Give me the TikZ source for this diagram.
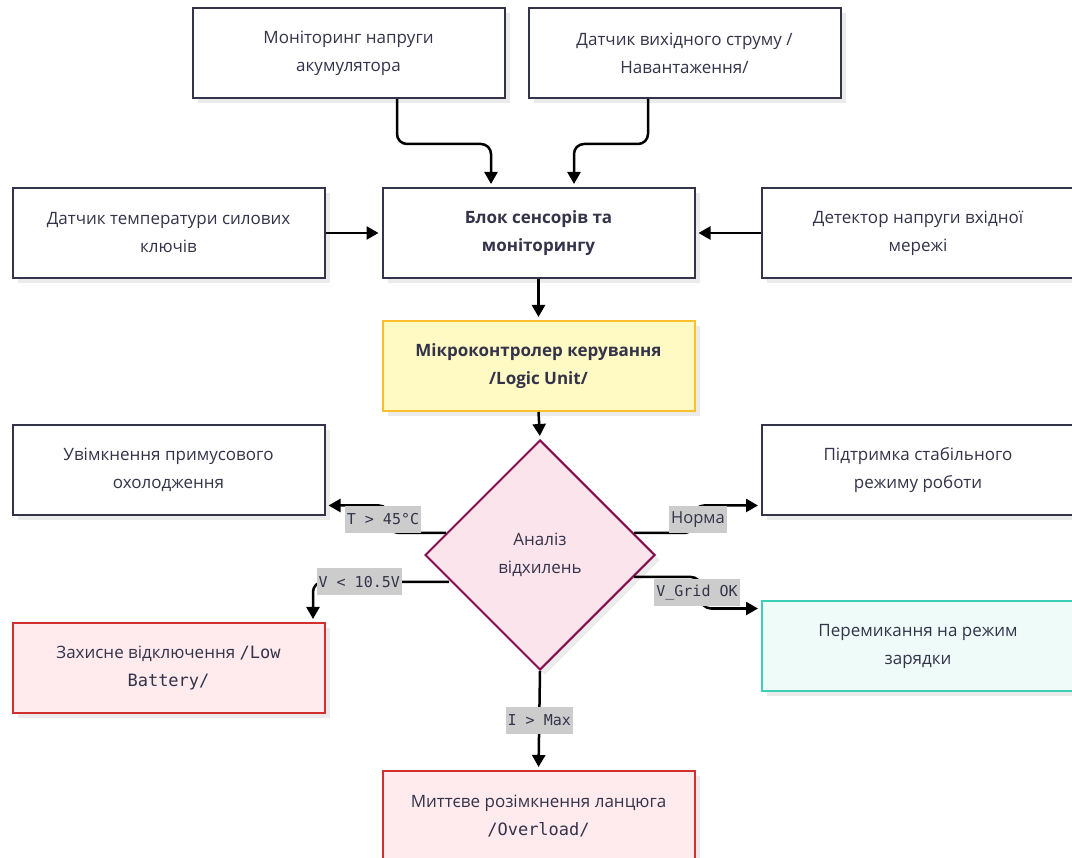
\documentclass[tikz,border=0pt]{standalone}
\usepackage{fontspec}
\setmainfont{Open Sans}
\setmonofont{DejaVu Sans Mono}
\usetikzlibrary{arrows.meta,shapes.geometric,shadows}
\definecolor{txt}{HTML}{33334A}
\definecolor{bord}{HTML}{33334A}
\definecolor{yfill}{HTML}{FFF9C4}
\definecolor{ybord}{HTML}{FBC02D}
\definecolor{dfill}{HTML}{FCE4EC}
\definecolor{dbord}{HTML}{880E4F}
\definecolor{rfill}{HTML}{FFEBEE}
\definecolor{rbord}{HTML}{D32F2F}
\definecolor{tfill}{HTML}{EFFBF9}
\definecolor{tbord}{HTML}{3CCFB8}
\definecolor{labbg}{HTML}{CCCCCC}
\tikzset{
  box/.style={draw=bord, fill=white, line width=2pt, minimum width=312pt, minimum height=90pt,
    align=center, text=txt, font=\fontsize{17}{28}\selectfont, inner sep=0pt,
    drop shadow={shadow xshift=5pt, shadow yshift=-5pt, fill=black, opacity=0.08}},
  ybox/.style={box, draw=ybord, fill=yfill},
  rbox/.style={box, draw=rbord, fill=rfill},
  tbox/.style={box, draw=tbord, fill=tfill},
  dec/.style={diamond, aspect=1, draw=dbord, fill=dfill, line width=2pt, minimum width=230pt,
    minimum height=230pt, inner sep=0pt, align=center, text=txt, font=\fontsize{17}{28}\selectfont,
    drop shadow={shadow xshift=5pt, shadow yshift=-5pt, fill=black, opacity=0.08}},
  arr/.style={draw=black, line width=2.5pt, rounded corners=10pt,
    -{Triangle[length=12pt,width=13pt]}, shorten >=3pt},
  lab/.style={sharp corners, fill=labbg, text=txt, inner xsep=2pt, inner ysep=0pt, minimum height=27pt,
    font=\fontsize{15}{18}\selectfont\ttfamily},
  slab/.style={lab, font=\fontsize{16.5}{18}\selectfont}
}
\begin{document}
\begin{tikzpicture}[x=1pt,y=-1pt]
\useasboundingbox (0,0) rectangle (1072,858);
\clip (0,0) rectangle (1072,858);
\fill[white] (0,0) rectangle (1072,858);

\node[box] (A) at (348.5,53) {Моніторинг напруги\\акумулятора};
\node[box] (B) at (684.5,53) {Датчик вихідного струму /\\Навантаження/};
\node[box] (C) at (168.5,233) {Датчик температури силових\\ключів};
\node[box, font=\fontsize{17}{28}\selectfont\bfseries] (D) at (538.5,233) {Блок сенсорів та\\моніторингу};
\node[box] (E) at (918,233) {Детектор напруги вхідної\\мережі};
\node[ybox, font=\fontsize{17}{28}\selectfont\bfseries] (F) at (538.5,366) {Мікроконтролер керування\\/Logic Unit/};
\node[dec] (X) at (540,555) {Аналіз\\відхилень};
\node[box] (G) at (168.5,470) {Увімкнення примусового\\охолодження};
\node[box] (H) at (918,470) {Підтримка стабільного\\режиму роботи};
\node[rbox] (I) at (168.5,668) {Захисне відключення \texttt{/Low}\\\texttt{Battery/}};
\node[tbox] (J) at (918,646) {Перемикання на режим\\зарядки};
\node[rbox] (K) at (538.5,816) {Миттєве розімкнення ланцюга\\\texttt{/Overload/}};

\draw[arr] ([xshift=48.5pt]A.south) -- ++(0,45) -| ([xshift=-47.5pt]D.north);
\draw[arr] ([xshift=-36.5pt]B.south) -- ++(0,45) -| ([xshift=35.5pt]D.north);
\draw[arr] (C.east) -- (D.west);
\draw[arr] (E.west) -- (D.east);
\draw[arr] (D.south) -- (F.north);
\draw[arr] (F.south) -- (X.north);

\draw[arr] ([shift={(22pt,22pt)}]X.west) -- ++(-57,0) |- node[pos=0.25,lab,xshift=-6pt]{T > 45°C} ([yshift=-35.5pt]G.east);
\draw[arr] ([shift={(-22pt,22pt)}]X.east) -- ++(60,0) |- node[pos=0.25,slab,xshift=4pt]{Норма} ([yshift=-35.5pt]H.west);
\draw[arr] ([shift={(25pt,-27pt)}]X.west) -| node[pos=0.33,lab]{V < 10.5V} ([xshift=144.5pt]I.north);
\draw[arr] ([shift={(-22pt,-22pt)}]X.east) -- ++(67,0) |- node[pos=0.25,lab,xshift=-4pt]{V\_Grid OK} ([yshift=37.5pt]J.west);
\draw[arr] (X.south) -- node[lab]{I > Max} (K.north);
\end{tikzpicture}
\end{document}
